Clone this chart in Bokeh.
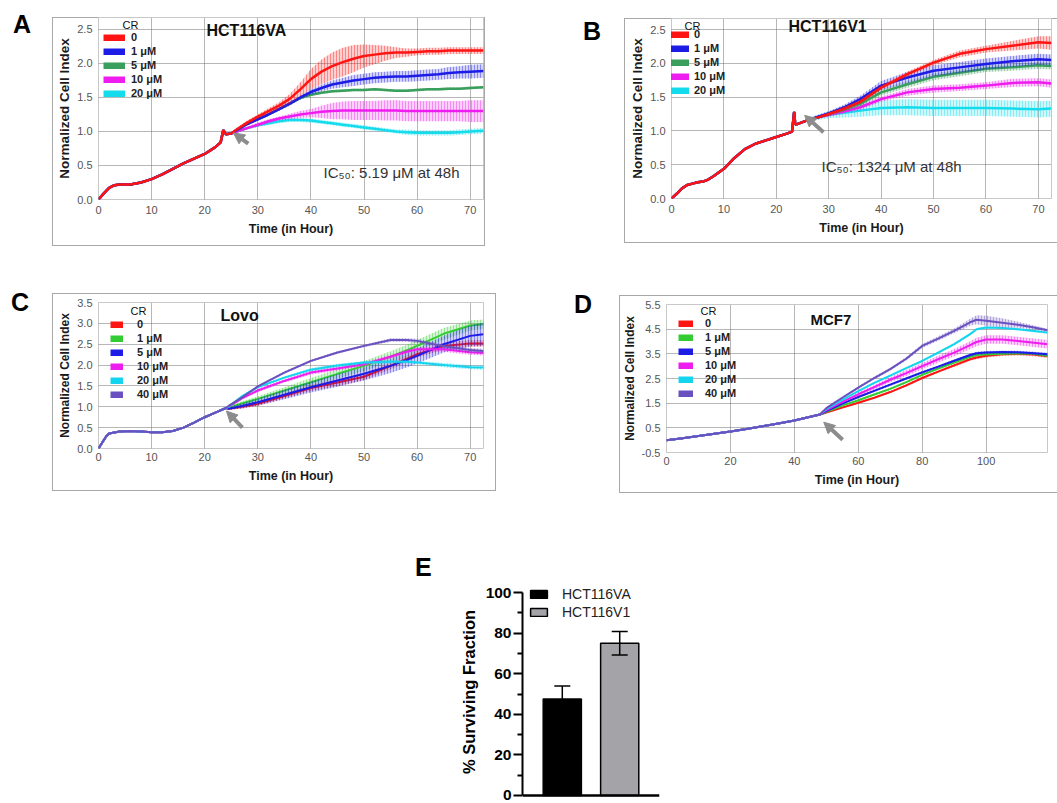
from bokeh.plotting import figure
from bokeh.layouts import row, column
from bokeh.models import (Legend, LegendItem, Label, Arrow, NormalHead, Spacer, Div, Span,
                          FixedTicker, ColumnDataSource, Whisker, TeeHead, FactorRange, Range1d,
                          NumeralTickFormatter)
from bokeh.embed import file_html
from bokeh.resources import INLINE

FONT = "Liberation Sans"
ARROW = "#8c8c8c"
NAN = float("nan")

# ---------------- data ----------------
labels_5 = ["0", "1 μM", "5 μM", "10 μM", "20 μM"]
labels_6 = ["0", "1 μM", "5 μM", "10 μM", "20 μM", "40 μM"]
colors_AB = ["#ff1414", "#1c1ce6", "#3a9e5c", "#ee1cee", "#14dcec"]
colors_CD = ["#ff1414", "#33cc33", "#1c1ce6", "#ee1cee", "#14d4ee", "#6a50c0"]

xticks_72 = [0, 10, 20, 30, 40, 50, 60, 70]
xticks_120 = [0, 20, 40, 60, 80, 100]
yticks_AB = [0.0, 0.5, 1.0, 1.5, 2.0, 2.5]
yticks_C = [0.0, 0.5, 1.0, 1.5, 2.0, 2.5, 3.0, 3.5]
yticks_D = [-0.5, 0.5, 1.5, 2.5, 3.5, 4.5, 5.5]

# Panel A: HCT116VA
A_pre_t = [0, 1, 2, 3, 4, 5, 6, 8, 10, 12, 14, 16, 18, 20, 22, 23, 23.5, 24, 25]
A_pre_y = [0.00, 0.09, 0.17, 0.21, 0.22, 0.22, 0.22, 0.25, 0.30, 0.37, 0.45, 0.53, 0.60, 0.67, 0.77, 0.84, 1.02, 0.96, 0.97]
A_t = [26, 28, 30, 32, 34, 36, 38, 40, 42, 44, 46, 48, 50, 52, 54, 56, 58, 60, 62, 64, 66, 68, 70, 72.5]
A_y0 = [1.03, 1.13, 1.22, 1.30, 1.38, 1.48, 1.62, 1.77, 1.88, 1.96, 2.02, 2.07, 2.11, 2.13, 2.15, 2.16, 2.16, 2.17, 2.18, 2.18, 2.19, 2.19, 2.19, 2.19]
A_e0 = [0.02, 0.03, 0.03, 0.04, 0.05, 0.07, 0.10, 0.15, 0.18, 0.20, 0.21, 0.20, 0.17, 0.14, 0.11, 0.08, 0.06, 0.05, 0.05, 0.05, 0.05, 0.05, 0.05, 0.05]
A_y1 = [1.02, 1.11, 1.18, 1.25, 1.33, 1.41, 1.50, 1.58, 1.64, 1.69, 1.72, 1.75, 1.77, 1.79, 1.80, 1.81, 1.81, 1.82, 1.83, 1.84, 1.86, 1.87, 1.88, 1.89]
A_e1 = [0.02, 0.02, 0.02, 0.02, 0.03, 0.03, 0.03, 0.04, 0.05, 0.06, 0.07, 0.08, 0.08, 0.08, 0.08, 0.08, 0.08, 0.08, 0.08, 0.08, 0.09, 0.09, 0.10, 0.10]
A_y5 = [1.02, 1.11, 1.18, 1.25, 1.33, 1.41, 1.49, 1.54, 1.57, 1.59, 1.60, 1.61, 1.61, 1.62, 1.61, 1.60, 1.60, 1.61, 1.62, 1.62, 1.63, 1.63, 1.64, 1.65]
A_e5 = [0.02, 0.02, 0.02, 0.02, 0.02, 0.02, 0.02, 0.02, 0.02, 0.02, 0.02, 0.02, 0.02, 0.02, 0.02, 0.02, 0.02, 0.02, 0.02, 0.02, 0.02, 0.02, 0.02, 0.02]
A_y10 = [1.00, 1.05, 1.10, 1.15, 1.19, 1.22, 1.25, 1.27, 1.29, 1.30, 1.31, 1.31, 1.31, 1.31, 1.31, 1.31, 1.30, 1.30, 1.30, 1.30, 1.30, 1.30, 1.30, 1.30]
A_e10 = [0.02, 0.02, 0.03, 0.03, 0.03, 0.04, 0.05, 0.06, 0.09, 0.12, 0.13, 0.14, 0.14, 0.14, 0.15, 0.15, 0.15, 0.15, 0.15, 0.15, 0.15, 0.15, 0.16, 0.16]
A_y20 = [1.00, 1.05, 1.09, 1.12, 1.15, 1.17, 1.17, 1.16, 1.14, 1.12, 1.10, 1.08, 1.06, 1.04, 1.02, 1.00, 0.99, 0.98, 0.98, 0.98, 0.98, 0.99, 1.00, 1.01]
A_e20 = [0.02, 0.02, 0.02, 0.03, 0.03, 0.03, 0.03, 0.03, 0.03, 0.03, 0.03, 0.03, 0.03, 0.03, 0.03, 0.03, 0.04, 0.04, 0.04, 0.04, 0.04, 0.04, 0.04, 0.04]

# Panel B: HCT116V1
B_pre_t = [0, 1, 2, 3, 4, 5, 6, 7, 8, 10, 12, 14, 16, 18, 20, 22, 23, 23.4, 23.6, 24, 25]
B_pre_y = [0.00, 0.07, 0.15, 0.20, 0.22, 0.24, 0.25, 0.28, 0.33, 0.44, 0.60, 0.73, 0.81, 0.86, 0.91, 0.96, 0.99, 1.28, 1.10, 1.10, 1.13]
B_t = [26, 28, 30, 33, 36, 40, 45, 50, 55, 60, 65, 70, 72.5]
B_y0 = [1.16, 1.20, 1.25, 1.33, 1.43, 1.64, 1.84, 2.01, 2.14, 2.21, 2.26, 2.31, 2.30]
B_e0 = [0.02, 0.02, 0.02, 0.03, 0.03, 0.03, 0.04, 0.04, 0.05, 0.05, 0.07, 0.09, 0.10]
B_y1 = [1.16, 1.21, 1.26, 1.35, 1.47, 1.67, 1.79, 1.89, 1.94, 1.99, 2.03, 2.06, 2.05]
B_e1 = [0.02, 0.03, 0.03, 0.04, 0.05, 0.07, 0.08, 0.08, 0.08, 0.08, 0.08, 0.08, 0.08]
B_y5 = [1.16, 1.20, 1.25, 1.32, 1.40, 1.57, 1.69, 1.80, 1.86, 1.92, 1.94, 1.97, 1.96]
B_e5 = [0.02, 0.02, 0.03, 0.03, 0.04, 0.05, 0.05, 0.05, 0.05, 0.05, 0.05, 0.05, 0.05]
B_y10 = [1.16, 1.20, 1.24, 1.29, 1.35, 1.47, 1.57, 1.62, 1.64, 1.67, 1.71, 1.72, 1.70]
B_e10 = [0.02, 0.02, 0.03, 0.03, 0.04, 0.04, 0.05, 0.05, 0.05, 0.05, 0.06, 0.06, 0.06]
B_y20 = [1.16, 1.20, 1.24, 1.27, 1.30, 1.34, 1.35, 1.34, 1.34, 1.34, 1.33, 1.32, 1.33]
B_e20 = [0.03, 0.04, 0.05, 0.07, 0.09, 0.11, 0.12, 0.12, 0.12, 0.12, 0.12, 0.12, 0.12]

# Panel C: Lovo
C_pre_t = [0, 1, 1.5, 2, 4, 6, 8, 10, 12, 14, 16, 18, 20, 22, 24]
C_pre_y = [0.00, 0.20, 0.30, 0.36, 0.41, 0.42, 0.41, 0.39, 0.39, 0.42, 0.50, 0.62, 0.75, 0.86, 0.97]
C_t = [24.5, 27, 30, 35, 40, 45, 50, 55, 58, 60, 65, 70, 72.5]
C_y0 = [0.95, 1.00, 1.07, 1.26, 1.45, 1.58, 1.72, 1.98, 2.15, 2.26, 2.45, 2.52, 2.52]
C_e0 = [0.02, 0.04, 0.05, 0.06, 0.07, 0.08, 0.08, 0.08, 0.08, 0.08, 0.08, 0.08, 0.08]
C_y1 = [0.98, 1.08, 1.19, 1.39, 1.59, 1.79, 1.98, 2.20, 2.35, 2.46, 2.75, 2.95, 2.98]
C_e1 = [0.03, 0.05, 0.06, 0.08, 0.10, 0.11, 0.12, 0.13, 0.13, 0.14, 0.14, 0.12, 0.11]
C_y5 = [0.95, 1.02, 1.11, 1.29, 1.47, 1.63, 1.79, 1.98, 2.12, 2.22, 2.50, 2.70, 2.74]
C_e5 = [0.03, 0.06, 0.08, 0.11, 0.13, 0.15, 0.16, 0.17, 0.18, 0.18, 0.20, 0.25, 0.28]
C_y10 = [1.00, 1.20, 1.39, 1.62, 1.82, 1.92, 2.02, 2.20, 2.32, 2.38, 2.38, 2.31, 2.29]
C_e10 = [0.02, 0.03, 0.04, 0.04, 0.05, 0.05, 0.05, 0.05, 0.05, 0.05, 0.06, 0.06, 0.06]
C_y20 = [1.00, 1.25, 1.47, 1.70, 1.89, 1.99, 2.06, 2.08, 2.08, 2.06, 2.00, 1.95, 1.94]
C_e20 = [0.02, 0.03, 0.03, 0.03, 0.04, 0.04, 0.04, 0.04, 0.04, 0.04, 0.05, 0.05, 0.05]
C_y40 = [1.02, 1.22, 1.49, 1.82, 2.10, 2.30, 2.46, 2.60, 2.60, 2.58, 2.45, 2.36, 2.34]
C_e40 = [0.02, 0.02, 0.02, 0.03, 0.03, 0.03, 0.03, 0.04, 0.04, 0.05, 0.05, 0.05, 0.05]

# Panel D: MCF7
D_pre_t = [0, 5, 10, 15, 20, 25, 30, 35, 40, 45, 48]
D_pre_y = [0.00, 0.08, 0.17, 0.26, 0.35, 0.45, 0.56, 0.68, 0.80, 0.95, 1.04]
D_t = [50, 55, 60, 65, 70, 75, 80, 85, 90, 95, 97, 100, 105, 110, 115, 119.2]
D_y0 = [1.12, 1.32, 1.52, 1.72, 1.95, 2.22, 2.52, 2.78, 3.03, 3.28, 3.35, 3.42, 3.48, 3.50, 3.47, 3.40]
D_e0 = [0.03, 0.03, 0.04, 0.04, 0.04, 0.05, 0.05, 0.05, 0.06, 0.06, 0.07, 0.07, 0.07, 0.07, 0.07, 0.07]
D_y1 = [1.15, 1.40, 1.62, 1.85, 2.08, 2.35, 2.65, 2.90, 3.15, 3.38, 3.45, 3.48, 3.50, 3.52, 3.50, 3.42]
D_e1 = [0.03, 0.03, 0.04, 0.04, 0.04, 0.04, 0.04, 0.04, 0.05, 0.05, 0.05, 0.05, 0.05, 0.05, 0.05, 0.05]
D_y5 = [1.18, 1.48, 1.75, 2.00, 2.25, 2.50, 2.75, 2.98, 3.22, 3.45, 3.52, 3.55, 3.57, 3.56, 3.52, 3.48]
D_e5 = [0.03, 0.04, 0.04, 0.05, 0.05, 0.05, 0.05, 0.05, 0.05, 0.06, 0.06, 0.06, 0.06, 0.06, 0.06, 0.06]
D_y10 = [1.22, 1.55, 1.86, 2.15, 2.45, 2.72, 3.00, 3.28, 3.55, 3.85, 3.98, 4.08, 4.08, 4.02, 3.95, 3.89]
D_e10 = [0.04, 0.05, 0.07, 0.09, 0.10, 0.12, 0.13, 0.14, 0.15, 0.16, 0.17, 0.17, 0.17, 0.17, 0.17, 0.17]
D_y20 = [1.26, 1.63, 1.99, 2.32, 2.62, 2.92, 3.21, 3.55, 3.89, 4.30, 4.50, 4.57, 4.55, 4.50, 4.43, 4.36]
D_e20 = [0.03, 0.03, 0.03, 0.04, 0.04, 0.04, 0.04, 0.05, 0.05, 0.05, 0.05, 0.05, 0.05, 0.05, 0.05, 0.05]
D_y40 = [1.30, 1.72, 2.13, 2.52, 2.88, 3.30, 3.82, 4.12, 4.43, 4.78, 4.88, 4.84, 4.76, 4.68, 4.57, 4.46]
D_e40 = [0.04, 0.05, 0.05, 0.06, 0.06, 0.07, 0.08, 0.09, 0.10, 0.14, 0.18, 0.20, 0.18, 0.12, 0.08, 0.06]

# Panel E: surviving fraction
E_groups = ["HCT116VA", "HCT116V1"]
E_mean = [47.5, 75.0]
E_err = [6.5, 5.8]
E_fill = ["#000000", "#a4a4a8"]
E_yticks = [0, 20, 40, 60, 80, 100]
E_yminor = [10, 30, 50, 70, 90]

# annotation arrows (data coords: x_start, y_start, x_end, y_end)
A_arrow = (28.2, 0.82, 25.4, 0.98)
B_arrow = (29.0, 0.98, 25.4, 1.23)
C_arrow = (27.1, 0.50, 24.1, 0.90)
D_arrow = (55.1, 0.02, 49.2, 0.73)


# ---------------- helpers ----------------
def ts_panel(w, h, L, R, T, B, x_end, y_lo, y_hi, xticks, yticks, ylab_size, shadow,
             tick_standoff=6, xlab_standoff=5):
    p = figure(width=w, height=h, x_range=Range1d(0, x_end), y_range=Range1d(y_lo, y_hi),
               output_backend="svg", toolbar_location=None,
               min_border_left=L, min_border_right=R, min_border_top=T, min_border_bottom=B,
               border_fill_color=None, background_fill_color="white",
               outline_line_color="#c8c8c8", outline_line_width=1,
               styles={"box-shadow": shadow})
    p.xaxis.ticker = FixedTicker(ticks=xticks)
    p.yaxis.ticker = FixedTicker(ticks=yticks)
    p.yaxis.formatter = NumeralTickFormatter(format="0.0")
    for ax in (p.xaxis[0], p.yaxis[0]):
        ax.axis_line_color = None
        ax.major_tick_line_color = None
        ax.minor_tick_line_color = None
        ax.major_tick_out = 0
        ax.major_tick_in = 0
        ax.minor_tick_out = 0
        ax.minor_tick_in = 0
        ax.major_label_text_font = FONT
        ax.major_label_text_font_size = "11px"
        ax.major_label_text_color = "#555555"
        ax.major_label_standoff = tick_standoff
        ax.axis_label_text_font = FONT
        ax.axis_label_text_font_style = "bold"
        ax.axis_label_text_color = "#1a1a1a"
    p.xaxis.axis_label = "Time (in Hour)"
    p.xaxis.axis_label_text_font_size = "12.5px"
    p.xaxis.axis_label_standoff = xlab_standoff
    p.yaxis.axis_label = "Normalized Cell Index"
    p.yaxis.axis_label_text_font_size = ylab_size
    p.yaxis.axis_label_standoff = 2
    p.yaxis.major_label_standoff = 6
    p.grid.grid_line_color = "#6e6e6e"
    p.grid.grid_line_dash = "1 1"
    p.grid.grid_line_width = 1
    return p


def add_series(p, pre_t, pre_y, post_t, ys, errs, colors, lw, order):
    for i in order:
        lo = [v - e for v, e in zip(ys[i], errs[i])]
        hi = [v + e for v, e in zip(ys[i], errs[i])]
        p.varea(x=post_t, y1=lo, y2=hi, fill_color=colors[i], fill_alpha=0.2,
                hatch_pattern="vertical_line", hatch_color=colors[i], hatch_alpha=0.4,
                hatch_scale=3, hatch_weight=1)
        p.line(x=pre_t + post_t, y=pre_y + ys[i], line_color=colors[i], line_width=lw)


def add_legend(p, labels, colors, loc, gw, gh, pitch, standoff, size="11px"):
    items = []
    for lab, c in zip(labels, colors):
        r = p.line(x=[NAN], y=[NAN], line_color=c, line_width=gh)
        items.append(LegendItem(label=lab, renderers=[r]))
    leg = Legend(items=items, location=loc, padding=0, margin=0, spacing=0,
                 glyph_width=gw, glyph_height=gh, label_height=pitch, label_standoff=standoff,
                 background_fill_alpha=0, border_line_color=None,
                 label_text_font=FONT, label_text_font_style="bold",
                 label_text_font_size=size, label_text_color="#222222")
    p.add_layout(leg)


def add_text(p, x, y, text, size, bold=False, color="#111111"):
    p.add_layout(Label(x=x, y=y, x_units="screen", y_units="screen", text=text,
                       text_font=FONT, text_font_size=size,
                       text_font_style="bold" if bold else "normal",
                       text_color=color, text_baseline="middle", text_align="left"))


def add_arrow(p, a):
    p.add_layout(Arrow(end=NormalHead(size=11, fill_color=ARROW, line_color=ARROW),
                       x_start=a[0], y_start=a[1], x_end=a[2], y_end=a[3],
                       line_color=ARROW, line_width=4))


def letter(ch, w, h, left, top, size=25):
    html = ('<div style="padding-left:%dpx;padding-top:%dpx;font-family:\'Liberation Sans\',Arial,sans-serif;'
            'font-weight:bold;font-size:%dpx;line-height:%dpx;color:#000;">%s</div>' % (left, top, size, size, ch))
    return Div(text=html, width=w, height=h, margin=0)


def cell(fig, dy, w):
    return column(Spacer(width=w, height=dy, margin=0), fig, spacing=0, margin=0)


FULL_BOX = "inset 0 0 0 1px #a8a8a8"
OPEN_BOX = "inset 1px 1px 0 0 #a8a8a8, inset 0 -1px 0 0 #a8a8a8"

# ---------------- Panel A ----------------
# frame reaches the top of the box so that title/legend header above 2.5 are not clipped
pA = ts_panel(433, 229, 46, 2, 0, 47, 72.5, 0, 2.676, xticks_72, yticks_AB, "13.5px", FULL_BOX)
add_series(pA, A_pre_t, A_pre_y, A_t, [A_y0, A_y1, A_y5, A_y10, A_y20],
           [A_e0, A_e1, A_e5, A_e10, A_e20], colors_AB, 2.5, [4, 3, 2, 1, 0])
add_legend(pA, labels_5, colors_AB, (5, 99), 22, 7, 14, 6)
add_text(pA, 24, 175, "CR", "11px")
add_text(pA, 108, 169, "HCT116VA", "16px", bold=True)
add_text(pA, 225, 27, "IC₅₀: 5.19 μM at 48h", "15px", color="#333333")
add_arrow(pA, A_arrow)

# ---------------- Panel B ----------------
pB = ts_panel(433, 225, 47, 6, 0, 45, 72.5, 0, 2.663, xticks_72, yticks_AB, "13.5px", OPEN_BOX)
add_series(pB, B_pre_t, B_pre_y, B_t, [B_y0, B_y1, B_y5, B_y10, B_y20],
           [B_e0, B_e1, B_e5, B_e10, B_e20], colors_AB, 2.5, [4, 3, 2, 1, 0])
add_legend(pB, labels_5, colors_AB, (-4, 101), 22, 7, 14, 5)
add_text(pB, 13, 173, "CR", "11px")
add_text(pB, 117, 172, "HCT116V1", "16px", bold=True)
add_text(pB, 150, 32, "IC₅₀: 1324 μM at 48h", "15px", color="#333333")
add_arrow(pB, B_arrow)

# ---------------- Panel C ----------------
pC = ts_panel(444, 198, 46, 13, 9, 43, 72.5, 0, 3.5, xticks_72, yticks_C, "12px", FULL_BOX,
              tick_standoff=4, xlab_standoff=5)
add_series(pC, C_pre_t, C_pre_y, C_t, [C_y0, C_y1, C_y5, C_y10, C_y20, C_y40],
           [C_e0, C_e1, C_e5, C_e10, C_e20, C_e40], colors_CD, 2, [0, 1, 2, 3, 4, 5])
add_legend(pC, labels_6, colors_CD, (12, 47), 13, 7, 14, 14)
add_text(pC, 32, 138, "CR", "11px")
add_text(pC, 122, 133, "Lovo", "16px", bold=True)
add_arrow(pC, C_arrow)

# ---------------- Panel D ----------------
pD = ts_panel(438, 198, 47, 10, 9, 41, 119.2, -0.5, 5.5, xticks_120, yticks_D, "12px", OPEN_BOX,
              tick_standoff=4, xlab_standoff=5)
add_series(pD, D_pre_t, D_pre_y, D_t, [D_y0, D_y1, D_y5, D_y10, D_y20, D_y40],
           [D_e0, D_e1, D_e5, D_e10, D_e20, D_e40], colors_CD, 2, [0, 1, 2, 3, 4, 5])
add_legend(pD, labels_6, colors_CD, (12, 52), 15, 7, 14, 12)
add_text(pD, 34, 142, "CR", "11px")
add_text(pD, 144, 133, "MCF7", "15px", bold=True)
add_arrow(pD, D_arrow)

# ---------------- Panel E ----------------
pE = figure(width=230, height=233, x_range=FactorRange(*E_groups, range_padding=0.193),
            y_range=Range1d(-1, 103), output_backend="svg", toolbar_location=None,
            min_border_left=82, min_border_right=11, min_border_top=16, min_border_bottom=6,
            outline_line_color=None, border_fill_color=None, background_fill_color=None)
pE.grid.visible = False
pE.xaxis.visible = False
bar_rends = []
for g, m, c in zip(E_groups, E_mean, E_fill):
    bar_rends.append(pE.vbar(x=[g], top=[m], bottom=0, width=0.665, fill_color=c,
                             line_color="black", line_width=1.5))
wsrc = ColumnDataSource(dict(x=E_groups,
                             upper=[m + e for m, e in zip(E_mean, E_err)],
                             lower=[m - e for m, e in zip(E_mean, E_err)]))
pE.add_layout(Whisker(source=wsrc, base="x", upper="upper", lower="lower", level="overlay",
                      line_color="black", line_width=1.5,
                      upper_head=TeeHead(size=16, line_color="black", line_width=1.5),
                      lower_head=TeeHead(size=16, line_color="black", line_width=1.5)))
pE.add_layout(Span(location=0, dimension="width", line_color="black", line_width=2.5))
legE = Legend(items=[LegendItem(label=g, renderers=[r]) for g, r in zip(E_groups, bar_rends)],
              location=(6, 176), padding=0, margin=0, spacing=0, glyph_width=21, glyph_height=10,
              label_height=18, label_standoff=13, background_fill_alpha=0, border_line_color=None,
              label_text_font=FONT, label_text_font_size="14px", label_text_color="#222222")
pE.add_layout(legE)
ya = pE.yaxis[0]
ya.ticker = FixedTicker(ticks=E_yticks, minor_ticks=E_yminor)
ya.bounds = (0, 100)
ya.axis_label = "% Surviving Fraction"
ya.axis_line_width = 2
ya.axis_line_color = "black"
ya.major_tick_line_width = 2
ya.major_tick_out = 9
ya.major_tick_in = 0
ya.minor_tick_line_width = 2
ya.minor_tick_out = 5
ya.minor_tick_in = 0
ya.major_label_text_font = FONT
ya.major_label_text_font_style = "bold"
ya.major_label_text_font_size = "15.5px"
ya.major_label_text_color = "black"
ya.major_label_standoff = 2
ya.axis_label_text_font = FONT
ya.axis_label_text_font_style = "bold"
ya.axis_label_text_font_size = "16.5px"
ya.axis_label_text_color = "black"
ya.axis_label_standoff = 5

# ---------------- layout (page has no body margin: add 8px offsets) ----------------
row1 = row(letter("A", 44, 239, 5, 4), cell(pA, 9, 433), letter("B", 139, 239, 98, 11),
           cell(pB, 10, 433), spacing=0)
row2 = row(letter("C", 44, 210, 3, 4), cell(pC, 7, 444), letter("D", 123, 210, 78, 6),
           cell(pD, 9, 438), spacing=0)
row3 = row(Spacer(width=392, height=247, margin=0), letter("E", 40, 247, 15, 7),
           cell(pE, 22, 230), spacing=0)
body = column(row1, Spacer(width=10, height=39, margin=0), row2,
              Spacer(width=10, height=52, margin=0), row3, spacing=0)
layout = column(Spacer(width=10, height=8, margin=0),
                row(Spacer(width=8, height=10, margin=0), body, spacing=0), spacing=0)

open("out.html", "w").write(file_html(layout, INLINE, title="Cell index panels"))
